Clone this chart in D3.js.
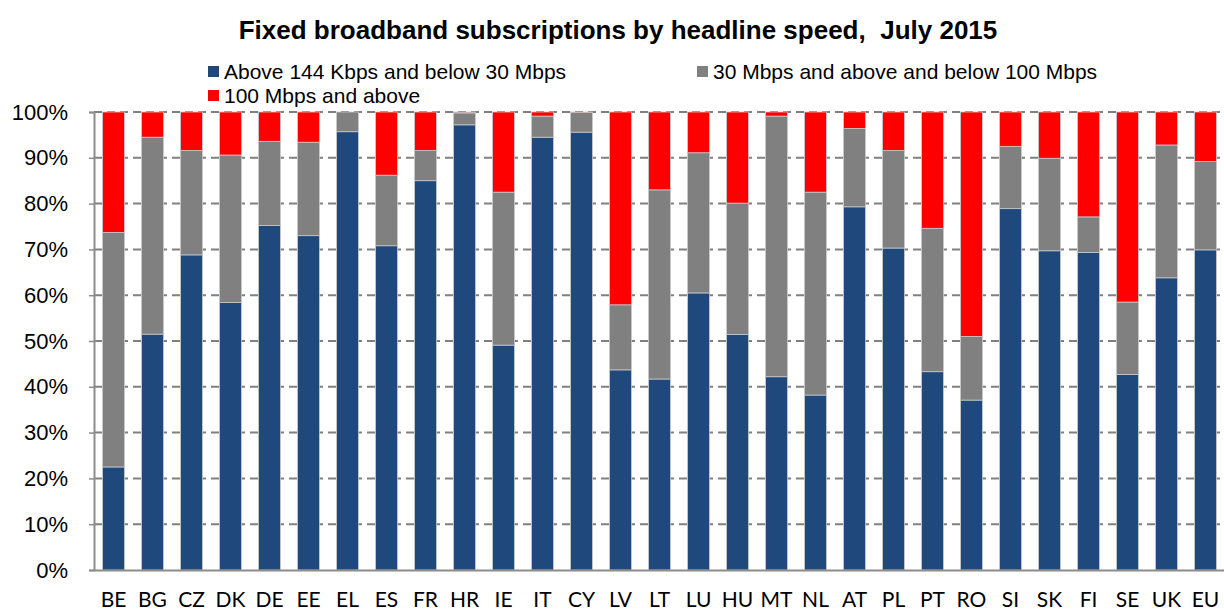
<!DOCTYPE html>
<html>
<head>
<meta charset="utf-8">
<script src="https://cdn.jsdelivr.net/npm/d3@7"></script>
<style>
  body { margin: 0; background: #fff; }
  .title { font-family: "Liberation Sans", Arial, sans-serif; font-weight: bold; font-size: 26px; white-space: pre; }
  .legTxt { font-family: "Liberation Sans", Arial, sans-serif; font-size: 21px; }
  .yAxis text { font-family: "Liberation Sans", Arial, sans-serif; font-size: 22px; }
  .xAxis text { font-family: Lato, "Open Sans", sans-serif; font-size: 21px; }
</style>
</head>
<body>
<div id="chart"></div>
<script>
// categories + the three stacked shares (%)
var countries = ["BE","BG","CZ","DK","DE","EE","EL","ES","FR","HR","IE","IT","CY","LV","LT",
                 "LU","HU","MT","NL","AT","PL","PT","RO","SI","SK","FI","SE","UK","EU"];
var below30 = [22.5, 51.5, 68.8, 58.4, 75.2, 73.0, 95.7, 70.8, 85.0, 97.2, 49.1, 94.5, 95.6, 43.7, 41.7,
               60.5, 51.4, 42.2, 38.2, 79.3, 70.3, 43.3, 37.1, 78.9, 69.7, 69.3, 42.7, 63.8, 69.9];
// cumulative top of the grey part
var upTo100 = [73.7, 94.5, 91.6, 90.6, 93.6, 93.4, 100, 86.2, 91.6, 99.8, 82.5, 99.1, 99.9, 57.9, 83.0,
               91.1, 80.1, 99.1, 82.5, 96.4, 91.6, 74.6, 51.0, 92.5, 89.9, 77.1, 58.5, 92.8, 89.2];
var yTicks = [0, 10, 20, 30, 40, 50, 60, 70, 80, 90, 100];

var seriesNames = ["Above 144 Kbps and below 30 Mbps", "30 Mbps and above and below 100 Mbps", "100 Mbps and above"];
var colors = ["#1F497D", "#808080", "#FF0000"];

var width = 1224, height = 612;
// plot box (don't call it "top", that's window.top)
var pLeft = 94, pRight = 1225, pTop = 112, pBottom = 570;

var svg = d3.select("#chart").append("svg")
    .attr("width", width)
    .attr("height", height);

// build stacked rows
var rows = countries.map(function(c, i) {
  return { c: c, a: below30[i], b: upTo100[i] - below30[i], r: 100 - upTo100[i] };
});
var stack = d3.stack().keys(["a", "b", "r"])(rows);

var x = d3.scaleBand().domain(countries).range([pLeft, pRight]).paddingInner(0.44).paddingOuter(0.22);
var y = d3.scaleLinear().domain([0, 100]).range([pBottom, pTop]);

// title
svg.append("text").attr("class", "title")
    .attr("x", 618).attr("y", 39)
    .attr("text-anchor", "middle")
    .text("Fixed broadband subscriptions by headline speed,  July 2015");

// legend
var legPos = [[208, 71], [697, 71], [208, 95]];
seriesNames.forEach(function(n, i) {
  var g = svg.append("g").attr("transform", "translate(" + legPos[i][0] + "," + legPos[i][1] + ")");
  g.append("rect").attr("x", 0).attr("y", -5).attr("width", 11).attr("height", 11).attr("fill", colors[i]);
  g.append("text").attr("class", "legTxt").attr("x", 16).attr("y", 8).text(n);
});

// dashed gridlines
svg.append("g").selectAll("line").data(yTicks.slice(1)).enter().append("line")
    .attr("x1", pLeft).attr("x2", pRight)
    .attr("y1", function(d) { return y(d); })
    .attr("y2", function(d) { return y(d); })
    .attr("stroke", "#808080")
    .attr("stroke-width", 2)
    .attr("stroke-dasharray", "8,5");

// bars
svg.append("g").selectAll("g").data(stack).enter().append("g")
    .attr("fill", function(d, i) { return colors[i]; })
  .selectAll("rect").data(function(d) { return d; }).enter().append("rect")
    .attr("x", function(d) { return x(d.data.c); })
    .attr("width", x.bandwidth())
    .attr("y", function(d) { return y(d[1]); })
    .attr("height", function(d) { return Math.max(0, y(d[0]) - y(d[1])); })
    .attr("stroke", "#c8c8c8")
    .attr("stroke-width", 0.8);

// y axis
var yAxis = d3.axisLeft(y).tickValues(yTicks).tickSize(5).tickPadding(21)
    .tickFormat(function(d) { return d + "%"; });
var gy = svg.append("g").attr("class", "yAxis")
    .attr("transform", "translate(" + pLeft + ",0)")
    .call(yAxis);
gy.select(".domain").attr("stroke", "#8c8c8c").attr("stroke-width", 2);
gy.selectAll(".tick line").attr("stroke", "#8c8c8c").attr("stroke-width", 1.5);
gy.selectAll(".tick text").attr("fill", "#000");

// x axis
var xAxis = d3.axisBottom(x).tickSize(0).tickPadding(22);
var gx = svg.append("g").attr("class", "xAxis")
    .attr("transform", "translate(0," + pBottom + ")")
    .call(xAxis);
gx.select(".domain").attr("stroke", "#8c8c8c").attr("stroke-width", 2);
gx.selectAll(".tick text").attr("fill", "#000");
</script>
</body>
</html>
